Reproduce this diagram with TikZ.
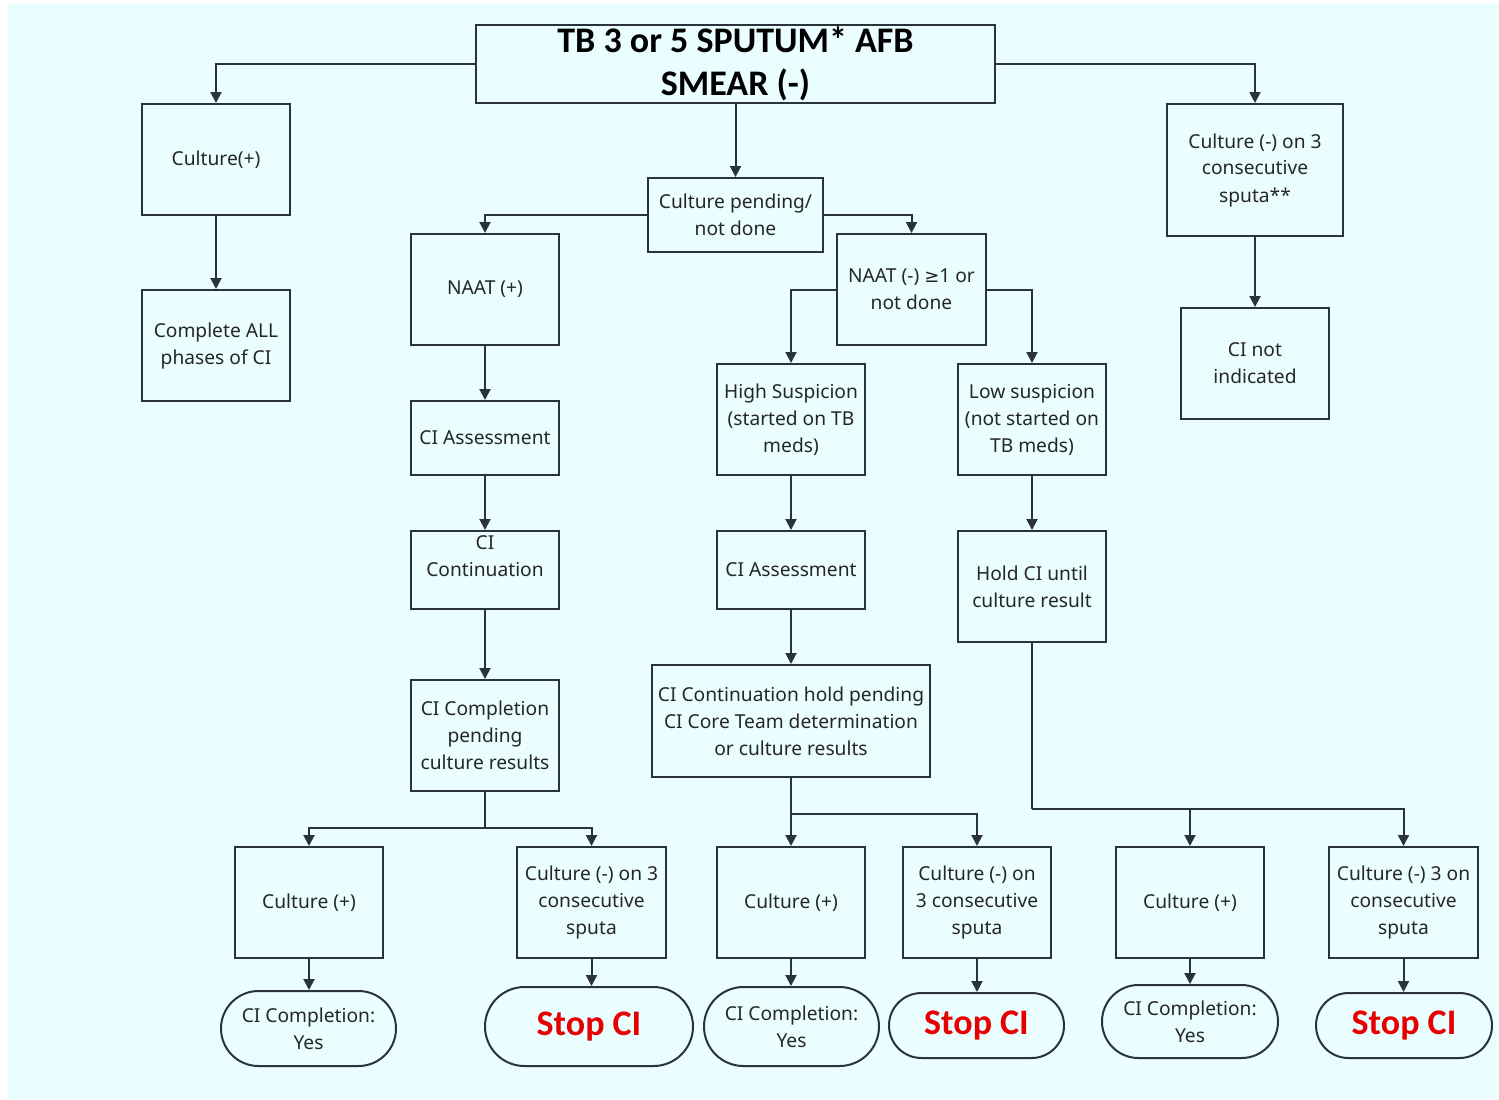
\documentclass[tikz,border=0pt]{standalone}
\usepackage{fontspec}
\setmainfont{Noto Sans}
\newfontfamily\titlefont{Carlito}
\newfontfamily\symfont{DejaVu Sans}
\usetikzlibrary{arrows.meta,shapes.misc}
\definecolor{bgc}{HTML}{EBFEFF}
\definecolor{edgec}{HTML}{2A323C}
\definecolor{txtc}{HTML}{262626}
\definecolor{stopc}{HTML}{E60000}
\tikzset{
  sz/.style 2 args={minimum width=#1*0.5pt, minimum height=#2*0.5pt},
  box/.style={draw=edgec, line width=1pt, fill=bgc, inner sep=0pt, align=center,
    text=txtc, font=\fontsize{9.6}{13.5}\selectfont},
  oval/.style={box, rounded rectangle},
  stoptxt/.style={font=\titlefont\bfseries\fontsize{18}{20}\selectfont, text=stopc},
  arr/.style={line width=1pt, draw=edgec, -{Triangle[length=5.5pt,width=5.5pt]}},
  ln/.style={line width=1pt, draw=edgec},
}
\begin{document}
\begin{tikzpicture}[x=0.5pt,y=-0.5pt]
\useasboundingbox (0,0) rectangle (1499,1099);
\fill[white] (0,0) rectangle (1499,1099);
\fill[bgc] (8,4) rectangle (1499,1099);

\node[box, sz={519}{78}, text=black, font=\titlefont\bfseries\fontsize{18}{21.5}\selectfont] (t) at (735.5,64) {TB 3 or 5 SPUTUM* AFB\\SMEAR (-)};
\node[box, sz={148}{111}] (cp) at (216,159.5) {Culture(+)};
\node[box, sz={148}{111}] (ca) at (216,345.5) {Complete ALL\\phases of CI};
\node[box, sz={175}{74}] (pend) at (735.5,215) {Culture pending/\\not done};
\node[box, sz={176}{132}] (cn3) at (1255,170) {Culture (-) on 3\\consecutive\\sputa**};
\node[box, sz={148}{111}] (cni) at (1255,363.5) {CI not\\indicated};
\node[box, sz={148}{111}] (naatp) at (485,289.5) {NAAT (+)};
\node[box, sz={149}{111}] (naatn) at (911.5,289.5) {NAAT (-) {\symfont\fontsize{9}{13.5}\selectfont ≥}1 or\\not done};
\node[box, sz={148}{74}] (ciaL) at (485,438) {CI Assessment};
\node[box, sz={148}{78}] (cicont) at (485,570) {};
\node[box, draw=none, fill=none] (cicontT) at (485,556) {CI\\Continuation};
\node[box, sz={148}{111}] (cicomp) at (485,735.5) {CI Completion\\pending\\culture results};
\node[box, sz={148}{111}] (hs) at (791,419.5) {High Suspicion\\(started on TB\\meds)};
\node[box, sz={148}{111}] (ls) at (1032,419.5) {Low suspicion\\(not started on\\TB meds)};
\node[box, sz={148}{78}] (ciaM) at (791,570) {CI Assessment};
\node[box, sz={148}{111}] (hold) at (1032,586.5) {Hold CI until\\culture result};
\node[box, sz={278}{112}] (cch) at (791,721) {CI Continuation hold pending\\CI Core Team determination\\or culture results};

\node[box, sz={148}{111}] (b1) at (309,902.5) {Culture (+)};
\node[box, sz={149}{111}] (b2) at (591.5,902.5) {Culture (-) on 3\\consecutive\\sputa};
\node[box, sz={148}{111}] (b3) at (791,902.5) {Culture (+)};
\node[box, sz={148}{111}] (b4) at (977,902.5) {Culture (-) on\\3 consecutive\\sputa};
\node[box, sz={148}{111}] (b5) at (1190,902.5) {Culture (+)};
\node[box, sz={149}{111}] (b6) at (1403.5,902.5) {Culture (-) 3 on\\consecutive\\sputa};

\node[oval, sz={175}{75}] (o1) at (308.5,1028.5) {CI Completion:\\Yes};
\node[oval, sz={208}{79}, stoptxt] (o2) at (589,1026.5) {Stop CI};
\node[oval, sz={175}{79}] (o3) at (791.5,1026.5) {CI Completion:\\Yes};
\node[oval, sz={175}{65}, stoptxt] (o4) at (976.5,1025.5) {Stop CI};
\node[oval, sz={176}{73}] (o5) at (1190,1021.5) {CI Completion:\\Yes};
\node[oval, sz={176}{65}, stoptxt] (o6) at (1404,1025.5) {Stop CI};

\coordinate (j1) at (485,828);
\coordinate (j2) at (791,814);
\coordinate (j3) at (1032,809);

\draw[arr] (t.west) -| (cp.north);
\draw[arr] (t.east) -| (cn3.north);
\draw[arr] (t.south) -- (pend.north);
\draw[arr] (cp.south) -- (ca.north);
\draw[arr] (cn3.south) -- (cni.north);
\draw[arr] (pend.west) -| (naatp.north);
\draw[arr] (pend.east) -| (naatn.north);
\draw[arr] (naatp.south) -- (ciaL.north);
\draw[arr] (ciaL.south) -- (cicont.north);
\draw[arr] (cicont.south) -- (cicomp.north);
\draw[arr] (naatn.west) -| (hs.north);
\draw[arr] (naatn.east) -| (ls.north);
\draw[arr] (hs.south) -- (ciaM.north);
\draw[arr] (ciaM.south) -- (cch.north);
\draw[arr] (ls.south) -- (hold.north);

\draw[ln] (cicomp.south) -- (j1);
\draw[arr] (j1) -| (b1.north);
\draw[arr] (j1) -| (b2.north);
\draw[ln] (cch.south) -- (j2);
\draw[arr] (j2) -- (b3.north);
\draw[arr] (j2) -| (b4.north);
\draw[ln] (hold.south) -- (j3);
\draw[arr] (j3) -| (b6.north);
\draw[arr] (j3 -| b5.north) -- (b5.north);

\draw[arr] (b1.south) -- (b1.south |- o1.north);
\draw[arr] (b2.south) -- (b2.south |- o2.north);
\draw[arr] (b3.south) -- (b3.south |- o3.north);
\draw[arr] (b4.south) -- (b4.south |- o4.north);
\draw[arr] (b5.south) -- (b5.south |- o5.north);
\draw[arr] (b6.south) -- (b6.south |- o6.north);
\end{tikzpicture}
\end{document}
